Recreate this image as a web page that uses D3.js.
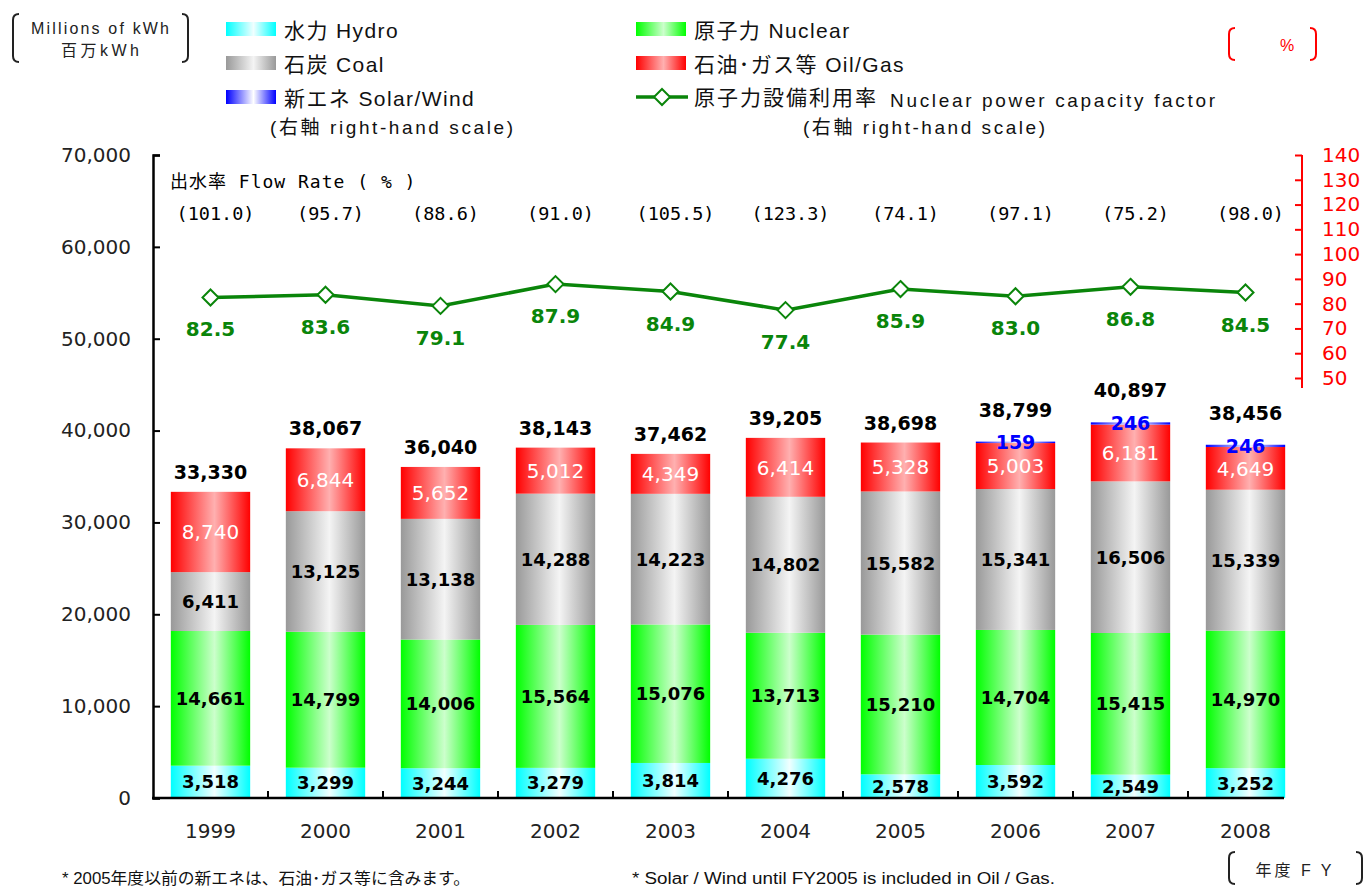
<!DOCTYPE html>
<html>
<head>
<meta charset="utf-8">
<script src="https://cdn.jsdelivr.net/npm/d3@7"></script>
<style>
body{margin:0;background:#fff;}
svg{display:block;font-family:"DejaVu Sans",sans-serif;}
</style>
</head>
<body>
<svg id="chart" width="1365" height="889"></svg>
<script>
// data
var years = ['1999','2000','2001','2002','2003','2004','2005','2006','2007','2008'];
var hydro = [3518,3299,3244,3279,3814,4276,2578,3592,2549,3252];
var nuclear = [14661,14799,14006,15564,15076,13713,15210,14704,15415,14970];
var coal = [6411,13125,13138,14288,14223,14802,15582,15341,16506,15339];
var oilGas = [8740,6844,5652,5012,4349,6414,5328,5003,6181,4649];
var solarWind = [0,0,0,0,0,0,0,159,246,246];
var totals = [33330,38067,36040,38143,37462,39205,38698,38799,40897,38456];
var capacityFactor = [82.5,83.6,79.1,87.9,84.9,77.4,85.9,83.0,86.8,84.5];
var flowRate = ['101.0','95.7','88.6','91.0','105.5','123.3','74.1','97.1','75.2','98.0'];
var leftTicks = [0,10000,20000,30000,40000,50000,60000,70000];
var rightTicks = [50,60,70,80,90,100,110,120,130,140];

var svg = d3.select('#chart');
var fmt = d3.format(',');
var lineGreen = '#0a850a';
var legendFont = '"Liberation Sans", "Noto Sans CJK JP", sans-serif';
var monoFont = '"DejaVu Sans Mono", "Noto Sans CJK JP", monospace';

var x = d3.scaleBand().domain(years).range([153,1303]).paddingInner(0.31).paddingOuter(0.155);
var y = d3.scaleLinear().domain([0,70000]).range([798,155]);
var yR = d3.scaleLinear().domain([50,140]).range([378,155]);

// series, bottom to top
var series = [
	{key:'hydro', values:hydro, edge:'#00ffff', mid:'#f0ffff', label:'#000', weight:'bold', size:18},
	{key:'nuclear', values:nuclear, edge:'#00ff00', mid:'#ccffcc', label:'#000', weight:'bold', size:18},
	{key:'coal', values:coal, edge:'#999999', mid:'#f4f4f4', label:'#000', weight:'bold', size:18},
	{key:'oil', values:oilGas, edge:'#ff0000', mid:'#ffb0b0', label:'#fff', weight:'normal', size:20},
	{key:'solar', values:solarWind, edge:'#0000ff', mid:'#ffffff', label:'#0000ff', weight:'bold', size:19}
];

//gradients for bars and legend swatches
var defs = svg.append('defs');
series.forEach(function(s){
	var g = defs.append('linearGradient').attr('id','grad-'+s.key)
		.attr('x1','0%').attr('x2','100%').attr('y1','0%').attr('y2','0%');
	g.append('stop').attr('offset','0%').attr('stop-color',s.edge);
	g.append('stop').attr('offset','55%').attr('stop-color',s.mid);
	g.append('stop').attr('offset','100%').attr('stop-color',s.edge);
});

var table = years.map(function(yr,i){
	var row = {year:yr};
	series.forEach(function(s){ row[s.key] = s.values[i]; });
	return row;
});
var stacked = d3.stack().keys(series.map(function(s){return s.key;}))(table);

//bars
stacked.forEach(function(layer,li){
	var s = series[li];
	svg.append('g')
	.selectAll('rect')
	.data(layer)
	.enter()
	.append('rect')
	.attr('x',function(d){return x(d.data.year);})
	.attr('width',x.bandwidth())
	.attr('y',function(d){return y(d[1]);})
	.attr('height',function(d){return y(d[0]) - y(d[1]);})
	.attr('fill','url(#grad-'+s.key+')');
});

//segment labels
stacked.forEach(function(layer,li){
	var s = series[li];
	svg.append('g')
	.selectAll('text')
	.data(layer.filter(function(d){return d[1] - d[0] > 0;}))
	.enter()
	.append('text')
	.attr('x',function(d){return x(d.data.year) + x.bandwidth()/2;})
	.attr('y',function(d){return y((d[0]+d[1])/2);})
	.attr('dy','0.36em')
	.attr('text-anchor','middle')
	.attr('font-size',s.size)
	.attr('font-weight',s.weight)
	.attr('fill',s.label)
	.text(function(d){return fmt(d[1]-d[0]);});
});

//totals above bars
svg.append('g')
.selectAll('text')
.data(years)
.enter()
.append('text')
.attr('x',function(d){return x(d) + x.bandwidth()/2;})
.attr('y',function(d,i){
	var top = y(totals[i]);
	return solarWind[i] > 0 ? top - 25 : top - 13;
})
.attr('text-anchor','middle')
.attr('font-size',19)
.attr('font-weight','bold')
.attr('fill','#000')
.text(function(d,i){return fmt(totals[i]);});

//left axis
var axL = svg.append('g').attr('transform','translate(153,0)')
	.call(d3.axisLeft(y).tickValues(leftTicks).tickSize(-7).tickPadding(22).tickFormat(fmt));
axL.select('.domain').attr('stroke','#000').attr('stroke-width',2.5);
axL.selectAll('.tick line').attr('stroke','#000').attr('stroke-width',2);
axL.selectAll('.tick text').attr('font-size',20).attr('fill','#222').style('font-family','"DejaVu Sans"');

//bottom axis, ticks between the categories
var step = x.step();
svg.append('line').attr('x1',152).attr('x2',1284).attr('y1',798).attr('y2',798)
	.attr('stroke','#000').attr('stroke-width',2.5);
svg.append('g')
.selectAll('line')
.data(years.slice(1))
.enter()
.append('line')
.attr('x1',function(d){return x(d) - step*x.paddingInner()/2;})
.attr('x2',function(d){return x(d) - step*x.paddingInner()/2;})
.attr('y1',798).attr('y2',791)
.attr('stroke','#000').attr('stroke-width',2);
svg.append('g')
.selectAll('text')
.data(years)
.enter()
.append('text')
.attr('x',function(d){return x(d) + x.bandwidth()/2;})
.attr('y',838)
.attr('text-anchor','middle')
.attr('font-size',20)
.attr('fill','#222')
.text(function(d){return d;});

//right axis (red)
var axR = svg.append('g').attr('transform','translate(1302,0)')
	.call(d3.axisRight(yR).tickValues(rightTicks).tickSize(-7).tickPadding(20));
axR.select('.domain').remove();
axR.append('line').attr('x1',0).attr('x2',0).attr('y1',yR(140)).attr('y2',yR(46))
	.attr('stroke','#ff0000').attr('stroke-width',2);
axR.selectAll('.tick line').attr('stroke','#ff0000').attr('stroke-width',2);
axR.selectAll('.tick text').attr('font-size',20).attr('fill','#ff0000').style('font-family','"DejaVu Sans"');

//flow rate row
svg.append('text')
.attr('x',170).attr('y',188)
.style('font-family',monoFont)
.attr('font-size',18)
.attr('letter-spacing',1)
.attr('fill','#000')
.text('出水率 Flow Rate ( % )');
svg.append('g')
.selectAll('text')
.data(flowRate)
.enter()
.append('text')
.attr('x',function(d,i){return x(years[i]) + x.bandwidth()/2 + 5;})
.attr('y',220)
.attr('text-anchor','middle')
.style('font-family',monoFont)
.attr('font-size',18.5)
.attr('fill','#000')
.text(function(d){return '(' + d + ')';});

//capacity factor line
var cx = function(i){return x(years[i]) + x.bandwidth()/2;};
svg.append('path')
.datum(capacityFactor)
.attr('fill','none')
.attr('stroke',lineGreen)
.attr('stroke-width',3.5)
.attr('d',d3.line().x(function(d,i){return cx(i);}).y(function(d){return yR(d);}));

function diamond(g,px,py){
	g.append('path')
	.attr('d','M'+px+','+(py-8)+'L'+(px+8)+','+py+'L'+px+','+(py+8)+'L'+(px-8)+','+py+'Z')
	.attr('fill','#fff')
	.attr('stroke',lineGreen)
	.attr('stroke-width',2);
}
var markers = svg.append('g');
capacityFactor.forEach(function(v,i){ diamond(markers,cx(i),yR(v)); });

svg.append('g')
.selectAll('text')
.data(capacityFactor)
.enter()
.append('text')
.attr('x',function(d,i){return cx(i);})
.attr('y',function(d){return yR(d) + 39;})
.attr('text-anchor','middle')
.attr('font-size',20)
.attr('font-weight','bold')
.attr('fill',lineGreen)
.text(function(d){return d.toFixed(1);});

//brackets
function bracket(x0,x1,y0,y1,color){
	var r = 6;
	svg.append('path')
	.attr('d','M'+(x0+r)+','+y0+'Q'+x0+','+y0+' '+x0+','+(y0+r)+'L'+x0+','+(y1-r)+'Q'+x0+','+y1+' '+(x0+r)+','+y1)
	.attr('fill','none').attr('stroke',color).attr('stroke-width',2);
	svg.append('path')
	.attr('d','M'+(x1-r)+','+y0+'Q'+x1+','+y0+' '+x1+','+(y0+r)+'L'+x1+','+(y1-r)+'Q'+x1+','+y1+' '+(x1-r)+','+y1)
	.attr('fill','none').attr('stroke',color).attr('stroke-width',2);
}
bracket(13,188,14,62,'#222');
svg.append('text').attr('x',100).attr('y',34).attr('text-anchor','middle')
	.style('font-family',legendFont).attr('font-size',16).attr('fill','#222')
	.attr('textLength',138).text('Millions of kWh');
svg.append('text').attr('x',100).attr('y',56).attr('text-anchor','middle')
	.style('font-family',legendFont).attr('font-size',16).attr('fill','#222')
	.attr('textLength',78).text('百万kWh');

bracket(1229,1316,28,60,'#ff0000');
svg.append('text').attr('x',1287).attr('y',51).attr('text-anchor','middle')
	.style('font-family',legendFont).attr('font-size',16).attr('fill','#ff0000').text('%');

bracket(1229,1362,852,884,'#222');
svg.append('text').attr('x',1295).attr('y',876).attr('text-anchor','middle')
	.style('font-family',legendFont).attr('font-size',16).attr('fill','#222')
	.attr('letter-spacing',3).text('年度 F Y');

//legend
var legendItems = [
	{key:'hydro', text:'水力 Hydro', lx:226, ly:22},
	{key:'coal', text:'石炭 Coal', lx:226, ly:56},
	{key:'solar', text:'新エネ Solar/Wind', lx:226, ly:90},
	{key:'nuclear', text:'原子力 Nuclear', lx:636, ly:22},
	{key:'oil', text:'石油･ガス等 Oil/Gas', lx:636, ly:56}
];
legendItems.forEach(function(it){
	svg.append('rect').attr('x',it.lx).attr('y',it.ly).attr('width',50).attr('height',14)
		.attr('fill','url(#grad-'+it.key+')');
	svg.append('text').attr('x',it.lx+58).attr('y',it.ly+16)
		.style('font-family',legendFont).attr('font-size',21).attr('fill','#111')
		.attr('letter-spacing',1.4)
		.text(it.text);
});
svg.append('line').attr('x1',636).attr('x2',688).attr('y1',97).attr('y2',97)
	.attr('stroke',lineGreen).attr('stroke-width',3.5);
diamond(svg,662,97);
svg.append('text').attr('x',694).attr('y',105)
	.style('font-family',legendFont).attr('font-size',21).attr('fill','#111')
	.attr('textLength',182).text('原子力設備利用率');
svg.append('text').attr('x',890).attr('y',107)
	.style('font-family',legendFont).attr('font-size',19).attr('fill','#111')
	.attr('textLength',325).text('Nuclear power capacity factor');
svg.append('text').attr('x',270).attr('y',134)
	.style('font-family',legendFont).attr('font-size',19).attr('fill','#111')
	.attr('textLength',243).text('(右軸 right-hand scale)');
svg.append('text').attr('x',803).attr('y',134)
	.style('font-family',legendFont).attr('font-size',19).attr('fill','#111')
	.attr('textLength',242).text('(右軸 right-hand scale)');

//notes at the bottom
svg.append('text').attr('x',62).attr('y',884)
	.style('font-family',legendFont).attr('font-size',16).attr('fill','#111')
	.attr('textLength',408).attr('lengthAdjust','spacingAndGlyphs')
	.text('* 2005年度以前の新エネは、石油･ガス等に含みます。');
svg.append('text').attr('x',632).attr('y',884)
	.style('font-family',legendFont).attr('font-size',16).attr('fill','#111')
	.attr('textLength',423).attr('lengthAdjust','spacingAndGlyphs')
	.text('* Solar / Wind until FY2005 is included in Oil / Gas.');
</script>
</body>
</html>
